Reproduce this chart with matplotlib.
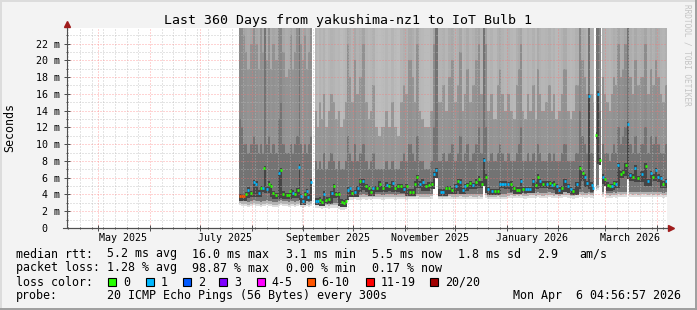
import numpy as np
import matplotlib
matplotlib.use("Agg")
import matplotlib.pyplot as plt
from matplotlib.patches import Rectangle
from matplotlib.lines import Line2D
from matplotlib.transforms import blended_transform_factory
from datetime import date

W, H = 697, 310
plt.rcParams["font.family"] = ["DejaVu Sans Mono", "DejaVu Sans"]

ORIGIN = date(2025, 7, 1)          # day 0 of the x axis
X_RANGE = (-79.8, 280.2)           # 360 days
Y_TOP = 23.85                      # ms

nan = float("nan")

# one entry per daily sample, days since 2025-07-01 (nan median = no data)
day = [24.0, 25.2, 26.4, 27.6, 28.8, 30.6, 32.4, 33.6, 35.4, 36.6, 37.6, 38.6, 40.2, 41.4, 42.6, 43.8, 45.6,
       47.4, 48.4, 49.8, 52.2, 53.2, 54.2, 55.8, 56.8, 58.6, 59.6, 60.6, 61.6, 63.0, 64.0, 65.0, 66.4,
       67.8,
       69.6, 70.8, 72.0, 73.4, 74.4, 75.6, 77.4, 79.0, 80.4, 81.8, 83.2, 85.0, 86.2, 87.4, 88.6, 90.0, 91.2,
       93.0, 94.6,
       96.0, 97.8, 99.6, 101.4, 102.6, 103.8, 106.0, 108.0, 109.6, 112.0, 113.4, 115.6, 117.0, 118.8, 120.6,
       122.4, 124.0, 126.0, 127.8, 129.0, 130.2, 132.0, 133.6, 135.6, 137.2, 139.0, 140.4, 141.4,
       144.4, 145.8, 147.6, 149.4, 151.2, 153.4, 154.6, 156.0, 157.8, 159.0, 160.2, 162.0, 163.8, 165.6, 167.4,
       169.0, 170.4, 171.6, 173.0, 175.0, 177.0, 178.8, 180.0, 181.5, 183.0,
       184.8, 186.6, 188.4, 190.2, 191.4, 192.4, 193.6, 195.6, 196.8, 198.0, 200.0, 201.6, 202.8, 204.0, 205.6,
       208.0, 210.0, 211.0, 212.4, 214.0, 215.6, 217.0, 219.0, 221.0, 222.4, 224.0, 226.4, 228.0, 229.6, 231.0,
       232.0, 233.4, 235.0, 236.0, 236.9, 237.8, 239.0, 240.2, 241.6, 243.0, 244.6, 246.0, 247.4, 248.4, 249.6,
       251.0, 252.4, 253.6, 255.6, 257.0, 258.0, 260.0, 261.0, 263.0, 265.0, 267.6, 269.0, 270.4, 272.0, 273.6,
       275.0, 276.4, 278.0, 279.4]

median_ms = [3.76, 3.76, 3.76, 4.04, 4.55, 4.16, 5.47, 5.27, 4.23, 4.75, 4.75, 7.1, 4.7, 5.27, 5.0, 4.16, 3.9,
             6.6, 6.9, 4.1, 3.9, 3.9, 4.4, 4.2, 4.05, 4.5, 7.3, 3.8, 3.25, 4.05, 4.4, 3.7, 5.5,
             nan,
             3.25, 3.25, 3.35, 3.15, 4.1, 3.35, 3.4, 4.15, 4.95, 4.05, 4.05, 3.15, 3.0, 3.2, 4.55, 4.75, 4.15,
             4.25, 4.75,
             5.55, 5.6, 5.0, 4.75, 4.35, 4.75, 4.75, 5.25, 4.75, 5.15, 4.95, 5.35, 4.75, 4.95, 4.95,
             4.7, 4.95, 4.35, 4.35, 5.25, 6.05, 5.25, 5.5, 4.95, 5.15, 5.2, 6.4, 6.9,
             4.35, 4.35, 4.75, 4.75, 4.5, 4.95, 5.55, 5.5, 4.5, 4.95, 5.1, 5.35, 5.1, 5.5, 5.85,
             5.25, 8.1, 6.1, 4.64, 4.4, 4.4, 4.4, 5.3, 5.3, 5.3,
             5.2, 5.25, 4.75, 4.55, 4.55, 5.55, 4.64, 4.64, 4.64, 4.64, 5.6, 5.15, 6.1, 5.55, 5.25,
             5.25, 5.35, 5.15, 5.25, 5.0, 4.55, 4.75, 5.55, 4.95, 4.64, 4.4, 5.2, 7.1, 6.5, 6.1,
             5.35, 15.7, 5.15, 4.75, nan, 11.1, 16.0, 8.1, 6.1, 5.8, 5.15, 4.95, 5.0, 5.35, 5.25,
             7.5, 6.45, 6.7, 7.5, 12.4, 6.3, 6.1, 7.2, 5.95, 6.45, 7.4, 5.55, 6.55, 6.1, 6.9,
             6.1, 5.95, 5.25, 5.55]

# lost pings out of 20
loss = [7, 7, 7, 0, 1, 0, 1, 1, 1, 0, 1, 0, 1, 0, 0, 0, 0,
        1, 0, 0, 0, 0, 0, 1, 0, 0, 1, 1, 1, 0, 1, 1, 1,
        0,
        1, 1, 0, 0, 1, 0, 0, 1, 0, 0, 0, 0, 0, 0, 1, 1, 0,
        1, 1,
        0, 1, 0, 0, 0, 1, 0, 0, 0, 1, 0, 1, 0, 0, 0,
        1, 0, 0, 0, 0, 0, 1, 1, 0, 0, 0, 1, 1,
        1, 1, 0, 0, 0, 1, 0, 1, 1, 1, 0, 0, 1, 0, 0,
        0, 1, 0, 1, 1, 0, 0, 1, 1, 1,
        1, 0, 0, 0, 0, 1, 0, 1, 1, 1, 1, 0, 0, 1, 0,
        1, 0, 1, 0, 1, 1, 0, 1, 1, 1, 0, 1, 0, 0, 1,
        1, 1, 1, 1, 0, 0, 1, 0, 1, 0, 0, 0, 1, 0, 1,
        1, 0, 0, 0, 1, 1, 0, 1, 0, 1, 0, 1, 1, 0, 1,
        1, 1, 0, 1]

# fastest ping of the day
low_ms = [2.7, 2.6, 2.6, 2.6, 2.5, 2.6, 2.7, 2.6, 2.6, 2.5, 2.6, 2.6, 2.7, 2.6, 2.6, 2.5, 2.5,
          2.6, 2.7, 2.6, 2.6, 2.5, 2.6, 2.6, 2.5, 2.6, 2.7, 2.5, 2.4, 2.5, 2.6, 2.5, 2.6,
          nan,
          2.4, 2.4, 2.4, 2.3, 2.4, 2.4, 2.3, 2.4, 2.4, 2.4, 2.3, 2.2, 2.2, 2.3, 3.3, 3.35, 3.35,
          3.4, 3.35,
          3.35, 3.4, 3.35, 3.4, 3.35, 3.4, 3.45, 3.4, 3.35, 3.4, 3.45, 3.4, 3.35, 3.4, 3.45,
          3.4, 3.35, 3.4, 3.45, 3.4, 3.5, 3.45, 3.4, 3.45, 3.4, 3.5, 4.6, 6.0,
          3.45, 3.4, 3.45, 3.5, 3.45, 3.4, 3.45, 3.5, 3.45, 3.4, 3.45, 3.5, 3.45, 3.4, 3.5,
          3.45, 5.0, 3.6, 3.45, 3.4, 3.45, 3.5, 3.45, 3.4, 3.45,
          3.55, 3.6, 3.55, 3.6, 3.55, 3.6, 3.55, 3.5, 3.55, 3.6, 3.6, 3.55, 3.65, 3.6, 3.55,
          3.6, 3.65, 3.6, 3.55, 3.6, 3.55, 3.6, 3.65, 3.6, 3.55, 3.5, 3.6, 3.7, 3.65, 3.6,
          3.6, 3.7, 3.6, 3.55, nan, 4.4, 4.5, 7.5, 3.7, 5.0, 3.6, 3.55, 3.6, 3.65, 3.6,
          3.7, 3.65, 3.7, 3.7, 5.7, 3.7, 3.65, 3.7, 3.65, 3.7, 3.7, 3.65, 3.7, 3.65, 3.7,
          3.65, 3.7, 3.6, 3.65]

# upper spread of the pings (75th / 90th percentile)
q75_ms = [13, 12, 10, 10, 9, 10, 11, 10, 9, 10, 9, 25, 10, 11, 9, 10, 9,
          13, 15, 10, 9, 9, 10, 9, 10, 11, 25, 10, 9, 10, 9, 10, 11,
          nan,
          8, 7, 8, 7, 9, 7, 8, 9, 8, 7, 8, 7, 7, 8, 11, 9, 8,
          10, 8,
          9, 10, 8, 7, 8, 9, 7, 7, 7, 8, 7, 8, 7, 7, 8,
          9, 8, 10, 9, 8, 11, 8, 8, 7, 7, 8, 12, 25,
          8, 9, 8, 9, 10, 8, 9, 11, 8, 9, 10, 8, 9, 10, 12,
          9, 25, 12, 8, 9, 8, 9, 10, 9, 8,
          9, 8, 8, 9, 10, 12, 8, 8, 9, 8, 9, 8, 10, 9, 8,
          8, 9, 8, 9, 8, 8, 9, 10, 8, 8, 8, 9, 14, 11, 10,
          9, 25, 9, 9, nan, 25, 25, 14, 10, 9, 9, 8, 9, 10, 9,
          12, 10, 11, 12, 25, 10, 9, 11, 9, 10, 12, 9, 11, 10, 11,
          10, 9, 9, 10]
q90_ms = [25, 25, 23, 21, 19, 22, 25, 22, 19, 24, 21, 25, 20, 24, 19, 22, 20,
          25, 25, 21, 18, 19, 23, 19, 21, 24, 25, 22, 20, 23, 19, 21, 25,
          nan,
          14, 12, 15, 13, 16, 12, 14, 16, 15, 13, 14, 12, 13, 15, 22, 18, 15,
          20, 16,
          18, 22, 15, 13, 14, 17, 12, 11, 12, 14, 12, 15, 12, 11, 15,
          17, 16, 20, 18, 15, 22, 14, 13, 12, 12, 14, 22, 25,
          15, 17, 14, 18, 20, 15, 17, 21, 14, 16, 19, 15, 17, 20, 22,
          16, 25, 22, 14, 16, 13, 17, 19, 16, 14,
          16, 14, 13, 17, 19, 22, 14, 13, 16, 14, 17, 13, 19, 16, 14,
          15, 17, 14, 16, 13, 14, 16, 19, 14, 13, 14, 17, 25, 20, 18,
          16, 25, 16, 15, nan, 25, 25, 25, 18, 16, 15, 14, 16, 18, 17,
          22, 18, 19, 22, 25, 18, 16, 20, 17, 18, 22, 16, 19, 17, 20,
          18, 16, 15, 17]

title = "Last 360 Days from yakushima-nz1 to IoT Bulb 1"
y_ticks = list(range(0, 23, 2))
y_tick_labels = ["0  "] + ["%d m" % v for v in y_ticks[1:]]
month_labels = ["May 2025", "July 2025", "September 2025", "November 2025", "January 2026", "March 2026"]
month_label_dates = [date(2025, 5, 16), date(2025, 7, 16), date(2025, 9, 16),
                     date(2025, 11, 16), date(2026, 1, 16), date(2026, 3, 16)]

loss_names = ["0", "1", "2", "3", "4-5", "6-10", "11-19", "20/20"]
loss_upper = [0, 1, 2, 3, 5, 10, 19, 20]
loss_hex = ["#26ff00", "#00b8ff", "#0059ff", "#7e00ff", "#ff00ff", "#ff5500", "#ff0000", "#a00000"]

rtt_stats = ["5.2 ms avg", "16.0 ms max", "3.1 ms min", "5.5 ms now", "1.8 ms sd", "2.9", "am/s"]
loss_stats = ["1.28 % avg", "98.87 % max", "0.00 % min", "0.17 % now"]
probe_text = "20 ICMP Echo Pings (56 Bytes) every 300s"
stamp = "Mon Apr  6 04:56:57 2026"

# ---------------------------------------------------------------- layout
def fx(x):
    return x / W


def fy(y):
    return 1 - y / H


fig = plt.figure(figsize=(W / 100, H / 100), dpi=100, facecolor="#f3f3f3")
fig.add_artist(Line2D([0, 1], [fy(0.7), fy(0.7)], color="#dcdcdc", lw=1.4))
fig.add_artist(Line2D([fx(0.7), fx(0.7)], [0, 1], color="#dcdcdc", lw=1.4))
fig.add_artist(Line2D([0, 1], [fy(H - 1), fy(H - 1)], color="#9e9e9e", lw=1.4))
fig.add_artist(Line2D([fx(W - 1), fx(W - 1)], [0, 1], color="#9e9e9e", lw=1.4))

ax = fig.add_axes([fx(67), fy(228), 600 / W, 200 / H])
ax.set_facecolor("white")
ax.set_xlim(*X_RANGE)
ax.set_ylim(0, Y_TOP)

# ---------------------------------------------------------------- smoke
d = np.array(day, float)
med = np.array(median_ms, float)
lo = np.array(low_ms, float)
q75 = np.array(q75_ms, float)
q90 = np.array(q90_ms, float)
n = len(d)

left = np.empty(n)
right = np.empty(n)
left[0] = d[0] - 0.6
left[1:] = (d[:-1] + d[1:]) / 2
right[:-1] = left[1:]
right[-1] = X_RANGE[1]

ok = ~np.isnan(med)
prev_m = np.r_[np.nan, med[:-1]]
next_m = np.r_[med[1:], np.nan]
core_lo = np.nanmin(np.vstack([prev_m, med, next_m]), axis=0) - 0.5
core_lo = np.maximum(core_lo, lo)

b0 = lo
b1 = np.minimum(lo + 0.3, core_lo)
b2 = np.minimum(lo + 0.6, core_lo)
b3 = core_lo
b4 = med + 0.3
b5 = np.maximum(q75, b4)
b6 = np.maximum(q90, b5)
b7 = np.full(n, 25.0)
edges = [b0, b1, b2, b3, b4, b5, b6, b7]


def greys(levels):
    return [(g, g, g) for g in levels]


# more pings up high -> darker column
mid_grey = np.interp(q75, [7, 14], [0.60, 0.53])
top_grey = np.interp(q90, [11, 25], [0.74, 0.62])
shades = [greys(np.full(n, 0.87)), greys(np.full(n, 0.70)), greys(np.full(n, 0.46)),
          greys(np.full(n, 0.27)), greys(np.full(n, 0.45)), greys(mid_grey), greys(top_grey)]

for k, shade in enumerate(shades):
    bot = edges[k][ok]
    top = edges[k + 1][ok]
    ax.bar(left[ok], top - bot, width=(right - left)[ok], bottom=bot, align="edge",
           color=[c for c, keep in zip(shade, ok) if keep], linewidth=0,
           antialiased=False, zorder=1)

# ---------------------------------------------------------------- median, coloured by loss
def loss_colour(v):
    for up, c in zip(loss_upper, loss_hex):
        if v <= up:
            return c
    return loss_hex[-1]


cols = [loss_colour(v) for v in np.array(loss)[ok]]
ax.hlines(med[ok], d[ok] - 0.65, d[ok] + 0.65, colors=cols, lw=1.9, zorder=4)

# ---------------------------------------------------------------- grid and axes
month_starts = [date(2025 + (m - 1) // 12, (m - 1) % 12 + 1, 1) for m in range(5, 17)]
major_x = [(m - ORIGIN).days for m in month_starts]
first_sunday = (date(2025, 4, 13) - ORIGIN).days
minor_x = list(range(first_sunday, int(X_RANGE[1]) + 1, 7))

ax.set_xticks(major_x)
ax.set_xticks(minor_x, minor=True)
ax.set_xticklabels([])
ax.set_yticks(y_ticks)
ax.set_yticks(range(0, 24), minor=True)
ax.set_yticklabels(y_tick_labels, fontsize=7.2)

ax.set_axisbelow(False)
ax.grid(which="minor", color="#b8b8b8", lw=0.72, ls=(0, (1, 2)), alpha=0.75)
ax.grid(which="major", color="#ff7070", lw=0.72, ls=(0, (1, 2)), alpha=0.6)

for s in ["top", "right"]:
    ax.spines[s].set_visible(False)
for s in ["left", "bottom"]:
    ax.spines[s].set_color("#505050")
    ax.spines[s].set_linewidth(0.8)

ax.tick_params(which="major", direction="inout", length=4, width=0.72, color="#505050", pad=3)
ax.tick_params(which="minor", direction="inout", length=2, width=0.72, color="#505050")

ax.plot([0, 0], [1, 1.02], transform=ax.transAxes, color="#505050", lw=0.8, clip_on=False)
ax.plot([0], [1.018], marker="^", ms=4.5, color="#a01c1c", transform=ax.transAxes, clip_on=False)
ax.plot([-0.006, 1.006], [0, 0], transform=ax.transAxes, color="#505050", lw=0.8, clip_on=False)
ax.plot([1.006], [0], marker=">", ms=4.5, color="#a01c1c", transform=ax.transAxes, clip_on=False)

tr = blended_transform_factory(ax.transData, fig.transFigure)
for lab, dt in zip(month_labels, month_label_dates):
    ax.text((dt - ORIGIN).days, fy(241), lab, transform=tr, ha="center", va="baseline",
            fontsize=7.2, clip_on=False)

# ---------------------------------------------------------------- texts
fig.text(fx(348.5), fy(24), title, ha="center", va="baseline", fontsize=9.5)
fig.text(fx(10), fy(128), "Seconds", rotation=90, ha="center", va="center", fontsize=8.4)
fig.text(fx(687), fy(4), "RRDTOOL / TOBI OETIKER", rotation=270, ha="center", va="top",
         fontsize=5.6, color="#c4c4c4")

rows_y = [257.5, 271.5, 285.5, 299.5]
fs = 8.4
fig.text(fx(16), fy(rows_y[0]), "median rtt:", fontsize=fs, va="baseline")
for s, x in zip(rtt_stats, [107.3, 192.0, 285.5, 372.3, 458.3, 536.7, 579.3]):
    fig.text(fx(x), fy(rows_y[0]), s, fontsize=fs, va="baseline")

fig.text(fx(16), fy(rows_y[1]), "packet loss:", fontsize=fs, va="baseline")
for s, x in zip(loss_stats, [107.3, 192.0, 285.5, 372.3]):
    fig.text(fx(x), fy(rows_y[1]), s, fontsize=fs, va="baseline")

fig.text(fx(16), fy(rows_y[2]), "loss color:", fontsize=fs, va="baseline")
box_x = [108.3, 145.7, 182.7, 219.3, 256.7, 306.7, 366.0, 430.0]
for name, c, x in zip(loss_names, loss_hex, box_x):
    fig.add_artist(Rectangle((fx(x), fy(286)), 8 / W, 8 / H, transform=fig.transFigure,
                             facecolor=c, edgecolor="black", lw=0.8))
    fig.text(fx(x + 15), fy(rows_y[2]), name, fontsize=fs, va="baseline")

fig.text(fx(16), fy(rows_y[3]), "probe:", fontsize=fs, va="baseline")
fig.text(fx(107.3), fy(rows_y[3]), probe_text, fontsize=fs, va="baseline")
fig.text(fx(513.3), fy(rows_y[3]), stamp, fontsize=fs, va="baseline")

fig.savefig("out.png", dpi=100, facecolor=fig.get_facecolor())
